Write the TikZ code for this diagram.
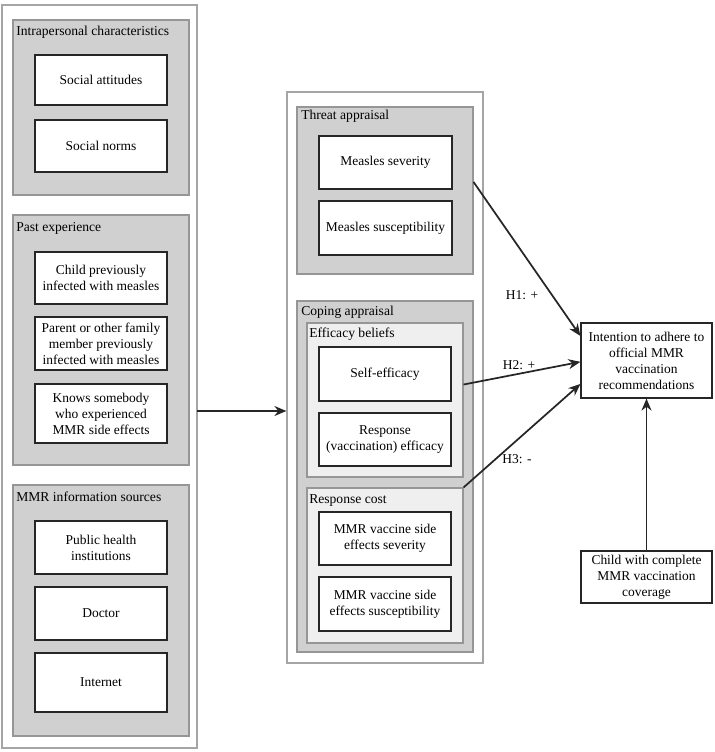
\documentclass[tikz,border=0pt]{standalone}
\usepackage{fontspec}
\setmainfont{Liberation Serif}
\usetikzlibrary{fit,arrows.meta}
\definecolor{grpfill}{RGB}{208,208,208}
\definecolor{subfill}{RGB}{239,239,239}
\definecolor{grpline}{RGB}{150,150,150}
\definecolor{outline}{RGB}{165,165,165}
\begin{document}
\begin{tikzpicture}[x=0.75pt,y=-0.75pt,
  outerbox/.style={draw=outline,fill=white,line width=0.9pt,inner sep=0pt},
  grpbox/.style={draw=grpline,fill=grpfill,line width=0.8pt,inner sep=0pt},
  subbox/.style={draw=grpline,fill=subfill,line width=0.8pt,inner sep=0pt},
  itembox/.style={draw=black!85,fill=white,line width=0.9pt,inner sep=0pt,align=center,
    font=\fontsize{10.1}{12}\selectfont},
  sz/.style 2 args={minimum width={#1*0.75pt},minimum height={#2*0.75pt}},
  grptitle/.style={anchor=base west,inner sep=0pt,font=\fontsize{10.2}{12}\selectfont},
  hlabel/.style={inner sep=1pt,font=\fontsize{10.1}{12}\selectfont},
  arr/.style={draw=black!85,line width=1.3pt,-{Stealth[length=9pt,width=7.5pt]}}]
\useasboundingbox (0,0) rectangle (714,752);
% outer containers
\node[outerbox,fit={(2,5) (197,748)}] (left) {};
\node[outerbox,fit={(287,92) (483,663)}] (mid) {};
% left groups
\node[grpbox,fit={(13,20) (189,195)}] (intra) {};
\node[grptitle] (intraT) at (16,36) {Intrapersonal characteristics};
\node[grpbox,fit={(13,215) (189,465)}] (past) {};
\node[grptitle] (pastT) at (16,231) {Past experience};
\node[grpbox,fit={(13,485) (189,736)}] (info) {};
\node[grptitle] (infoT) at (16,501) {MMR information sources};
% middle groups
\node[grpbox,fit={(297,107) (473,274)}] (threat) {};
\node[grptitle] (threatT) at (301,120) {Threat appraisal};
\node[grpbox,fit={(297,301) (473,652)}] (coping) {};
\node[grptitle] (copingT) at (301,315) {Coping appraisal};
\node[subbox,fit={(307,323) (463,477)}] (eff) {};
\node[grptitle] (effT) at (309,337) {Efficacy beliefs};
\node[subbox,fit={(307,488) (463,643)}] (cost) {};
\node[grptitle] (costT) at (309,503) {Response cost};
% left items
\node[itembox,sz={132}{50}] (sa) at (101,80) {Social attitudes};
\node[itembox,sz={132}{52}] (sn) at (101,146) {Social norms};
\node[itembox,sz={132}{52}] (cpi) at (101,278) {Child previously\\infected with measles};
\node[itembox,sz={132}{53}] (par) at (101,343.5) {Parent or other family\\member previously\\infected with measles};
\node[itembox,sz={132}{59}] (kno) at (101,413.5) {Knows somebody\\who experienced\\MMR side effects};
\node[itembox,sz={132}{53}] (pub) at (101,547.5) {Public health\\institutions};
\node[itembox,sz={132}{53}] (doc) at (101,613.5) {Doctor};
\node[itembox,sz={132}{59}] (inet) at (101,682.5) {Internet};
% middle items
\node[itembox,sz={133}{53}] (ms) at (385.5,162.5) {Measles severity};
\node[itembox,sz={133}{54}] (msu) at (385.5,228) {Measles susceptibility};
\node[itembox,sz={132}{54}] (se) at (385,374) {Self-efficacy};
\node[itembox,sz={132}{53}] (re) at (385,439.5) {Response\\(vaccination) efficacy};
\node[itembox,sz={132}{53}] (mse) at (385,538.5) {MMR vaccine side\\effects severity};
\node[itembox,sz={132}{54}] (msus) at (385,604) {MMR vaccine side\\effects susceptibility};
% right items
\node[itembox,sz={131}{75}] (intent) at (646.5,360.5) {Intention to adhere to\\official MMR\\vaccination\\recommendations};
\node[itembox,sz={131}{52}] (child) at (646.5,577) {Child with complete\\MMR vaccination\\coverage};
% connectors
\coordinate (ls) at (197,411);
\draw[arr] (ls) -- (ls -| mid.west);
\draw[arr] ([yshift=6.4pt]threat.east) -- ([yshift=18.4pt]intent.west);
\draw[arr] ([yshift=11.6pt]eff.east) -- ([yshift=-1pt]intent.west);
\draw[arr] (cost.north east) -- ([yshift=-17.6pt]intent.west);
\draw[arr] (child.north) -- (intent.south);
% labels
\node[hlabel] (h1) at (522,295) {H1: +};
\node[hlabel] (h2) at (519,365) {H2: +};
\node[hlabel] (h3) at (517,459) {H3: -};
\end{tikzpicture}
\end{document}
